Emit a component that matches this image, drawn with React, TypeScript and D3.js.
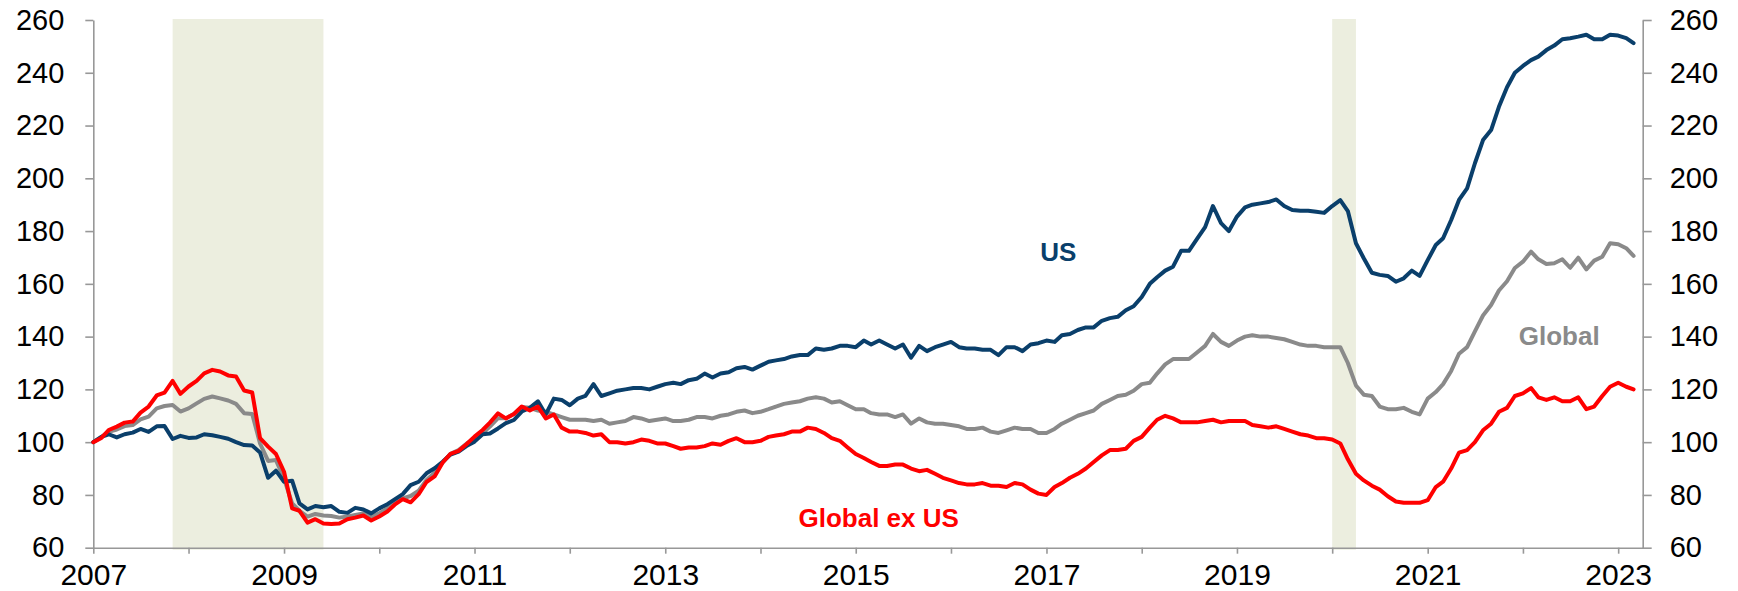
import React from 'react';
import * as d3 from 'd3';
import { useEffect, useRef } from 'react';

// monthly index levels, Jan 2007 = 100, through Mar 2023
const startMonth = new Date(2007, 0, 1);

const usValues = [
  100, 102, 103, 101.8, 103, 103.6, 105, 103.9, 106, 106.1, 101.2, 102.4,
  101.6, 101.8, 103, 102.6, 102, 101.3, 100, 98.9, 98.7, 96.1, 86.5, 89.2,
  85, 85.4, 76.8, 74.5, 75.8, 75.3, 75.8, 73.6, 73.2, 75.1, 74.5, 73,
  74.9, 76.5, 78.3, 80.3, 83.7, 85, 88.2, 90.1, 92.6, 95.3, 96.4, 98.5,
  100.2, 103, 103.3, 105.2, 107.2, 108.4, 111.6, 113, 115.5, 110.5, 116.5, 116,
  114, 116.5, 117.5, 122, 117.5, 118.5, 119.5, 120, 120.5, 120.5, 120, 121,
  122, 122.5, 122, 123.5, 124, 126, 124.5, 126, 126.5, 128, 128.5, 127.5,
  129, 130.5, 131, 131.5, 132.5, 133, 133, 135.5, 135, 135.5, 136.5, 136.5,
  136, 138.5, 137, 138.5, 137, 135.5, 137, 132, 136.5, 134.5, 136, 137,
  138, 136, 135.5, 135.5, 135, 135, 133, 136, 136, 134.5, 137, 137.5,
  138.5, 138, 140.5, 141, 142.5, 143.5, 143.5, 146, 147, 147.5, 150, 151.5,
  155, 160, 162.5, 165, 166.5, 172.5, 172.5, 177, 181.5, 189.5, 183, 180,
  185.5, 189, 190, 190.5, 191, 192, 189.5, 188, 187.7, 187.7, 187.3, 186.9,
  189.5, 191.7, 187.6, 175.4, 169.7, 164.2, 163.4, 163, 160.8, 162.1, 165, 163,
  169, 174.7, 177.3, 184.2, 191.8, 196.2, 205.7, 214.5, 218.3, 227.1, 234.5, 240,
  242.6, 244.8, 246.1, 248.6, 250.3, 252.7, 253.1, 253.7, 254.4, 252.7, 252.7, 254.4,
  254.1, 253.1, 251.2,
];

const globalValues = [
  100, 102, 103.9, 104.8, 106.1, 106.5, 108.6, 109.7, 112.8, 113.7, 114.1, 111.6,
  112.8, 114.7, 116.4, 117.3, 116.6, 115.8, 114.5, 111, 110.7, 99.5, 92.9, 93.2,
  86.2, 76.8, 74, 71.8, 72.8, 72.2, 72, 71.4, 71.8, 72.4, 73, 71.8,
  73, 74.9, 77.1, 78.7, 79.6, 81.6, 85.7, 88.4, 92.3, 95.6, 97, 99.4,
  101.3, 103.4, 105.9, 109.1, 109.1, 110.7, 113.3, 113, 112, 111.5, 110.5, 109.5,
  108.5, 108.5, 108.5, 108, 108.5, 107, 107.5, 108, 109.5, 109, 108, 108.5,
  109, 108, 108, 108.5, 109.5, 109.5, 109, 110, 110.5, 111.5, 112, 111,
  111.5, 112.5, 113.5, 114.5, 115, 115.5, 116.5, 117, 116.5, 115, 115.5, 114,
  112.5, 112.5, 111, 110.5, 110.5, 109.5, 110.5, 107, 109, 107.5, 107, 107,
  106.5, 106, 105, 105, 105.5, 104, 103.5, 104.5, 105.5, 105, 105, 103.5,
  103.5, 105, 107, 108.5, 110, 111, 112, 114.5, 116, 117.5, 118, 119.5,
  122, 122.5, 126, 129.5, 131.5, 131.5, 131.5, 134, 136.5, 141, 138, 136.5,
  138.5, 140, 140.5, 140, 140, 139.5, 139, 138, 137, 136.5, 136.5, 136,
  136, 136, 130, 121.5, 118, 117.5, 113.5, 112.5, 112.5, 113, 111.5, 110.5,
  116.5, 119, 122, 127, 133.5, 136, 142, 148, 152, 157.5, 161, 166,
  168.4, 172.2, 169.3, 167.5, 167.8, 169.3, 166.1, 169.9, 165.5, 168.8, 170.3, 175.4,
  175, 173.5, 170.6,
];

const exUsValues = [
  100, 101.6, 104.6, 105.9, 107.4, 107.8, 111.2, 113.5, 117.7, 118.8, 123.2, 118.3,
  121.1, 123.2, 126.1, 127.4, 126.8, 125.3, 124.9, 119.6, 118.8, 101.5, 98.3, 95.5,
  88.8, 74.9, 74, 69.5, 70.8, 69.2, 69, 69.2, 70.8, 71.4, 72.2, 70.3,
  71.8, 73.7, 76.3, 78.4, 77.2, 80.3, 84.9, 87, 92.3, 95.6, 96.7, 99.2,
  102.1, 104.6, 107.4, 110.9, 109, 110.7, 113.5, 112, 113.5, 109, 110.5, 105.5,
  104, 104, 103.5, 102.5, 103, 100, 100, 99.5, 100, 101, 100.5, 99.5,
  99.5, 98.5, 97.5, 98, 98, 98.5, 99.5, 99, 100.5, 101.5, 100, 100,
  100.5, 102, 102.5, 103, 104, 104, 105.5, 105, 103.5, 101.5, 100.5, 98,
  95.5, 94, 92.5, 91, 91, 91.5, 91.5, 90, 89, 89.5, 88, 86.5,
  85.5, 84.5, 84, 84, 84.5, 83.5, 83.5, 83, 84.5, 84, 82, 80.5,
  80, 83, 84.5, 86.5, 88, 90, 92.5, 95, 97, 97, 97.5, 100.5,
  102, 105.5, 108.5, 110, 109, 107.5, 107.5, 107.5, 108, 108.5, 107.5, 108,
  108, 108, 106.5, 106, 105.5, 106, 105, 104, 103, 102.5, 101.5, 101.5,
  101, 99.5, 93.5, 88, 85.5, 83.5, 82, 79.5, 77.5, 77, 77, 77,
  78, 83, 85, 90, 96, 97, 100, 104.5, 107, 111.5, 113, 117.5,
  118.5, 120.5, 117, 116, 117, 115.5, 115.5, 117, 112.5, 113.5, 117.5, 121,
  122.5, 121, 120,
];

const yTicks = [60, 80, 100, 120, 140, 160, 180, 200, 220, 240, 260];

// shaded recession periods
const recessions = [
  { from: new Date(2007, 10, 1), to: new Date(2009, 5, 1) },
  { from: new Date(2020, 0, 1), to: new Date(2020, 3, 1) },
];

const series = [
  { name: 'Global', values: globalValues, colour: '#8a8a8a', label: { date: new Date(2022, 4, 20), value: 136.8 } },
  { name: 'US', values: usValues, colour: '#0a3f6b', label: { date: new Date(2017, 1, 15), value: 168.7 } },
  { name: 'Global ex US', values: exUsValues, colour: '#ff0000', label: { date: new Date(2015, 2, 30), value: 67.8 } },
];

const width = 1738;
const height = 591;

const App = () => {
  const chartRef = useRef<SVGSVGElement | null>(null);

  useEffect(() => {
    const svg = d3.select(chartRef.current);
    svg.selectAll('*').remove();

    const left = 93.3;
    const right = 1642.7;
    const top = 20;
    const bottom = 547.7;
    const font = '"Liberation Sans", Arial, sans-serif';

    const xScale = d3.scaleTime()
      .domain([new Date(2007, 0, 1), new Date(2023, 3, 5)])
      .range([left, right]);

    const yScale = d3.scaleLinear()
      .domain([60, 260])
      .range([bottom, top]);

    svg.selectAll('rect.shade')
      .data(recessions)
      .enter()
      .append('rect')
      .attr('class', 'shade')
      .attr('x', d => xScale(d.from))
      .attr('y', yScale(260) - 1)
      .attr('width', d => xScale(d.to) - xScale(d.from))
      .attr('height', yScale(60) - yScale(260) + 3)
      .attr('fill', '#eceedf');

    const styleAxis = (g: any, size: number) => {
      g.select('.domain').attr('stroke', '#989898').attr('stroke-width', 1.6);
      g.selectAll('.tick line').attr('stroke', '#989898').attr('stroke-width', 1.6);
      g.selectAll('.tick text')
        .attr('fill', '#000')
        .style('font-family', font)
        .style('font-size', size + 'px');
    };

    const xAxis = d3.axisBottom(xScale)
      .ticks(d3.timeYear.every(1))
      .tickSize(6)
      .tickSizeOuter(0)
      .tickPadding(10)
      .tickFormat((d: any) => (d.getFullYear() % 2 === 1 ? String(d.getFullYear()) : ''));

    const gx = svg.append('g')
      .attr('transform', `translate(0, ${bottom})`)
      .call(xAxis as any);
    styleAxis(gx, 30);

    const gl = svg.append('g')
      .attr('transform', `translate(${left}, 0)`)
      .call(d3.axisLeft(yScale).tickValues(yTicks).tickSize(8).tickSizeOuter(0).tickPadding(21) as any);
    styleAxis(gl, 29);

    const gr = svg.append('g')
      .attr('transform', `translate(${right}, 0)`)
      .call(d3.axisRight(yScale).tickValues(yTicks).tickSize(9).tickSizeOuter(0).tickPadding(18) as any);
    styleAxis(gr, 29);

    const line = d3.line<number>()
      .x((d, i) => xScale(d3.timeMonth.offset(startMonth, i)))
      .y(d => yScale(d));

    series.forEach(s => {
      svg.append('path')
        .datum(s.values)
        .attr('d', line)
        .attr('fill', 'none')
        .attr('stroke', s.colour)
        .attr('stroke-width', 4)
        .attr('stroke-linejoin', 'round')
        .attr('stroke-linecap', 'round');
    });

    series.forEach(s => {
      svg.append('text')
        .attr('x', xScale(s.label.date))
        .attr('y', yScale(s.label.value))
        .attr('text-anchor', 'middle')
        .attr('fill', s.colour)
        .style('font-family', font)
        .style('font-weight', 'bold')
        .style('font-size', '26px')
        .text(s.name);
    });
  }, []);

  return (
    <svg ref={chartRef} width={width} height={height}
      style={{ position: 'absolute', left: 0, top: 0, background: '#fff' }} />
  );
};

export default App;
